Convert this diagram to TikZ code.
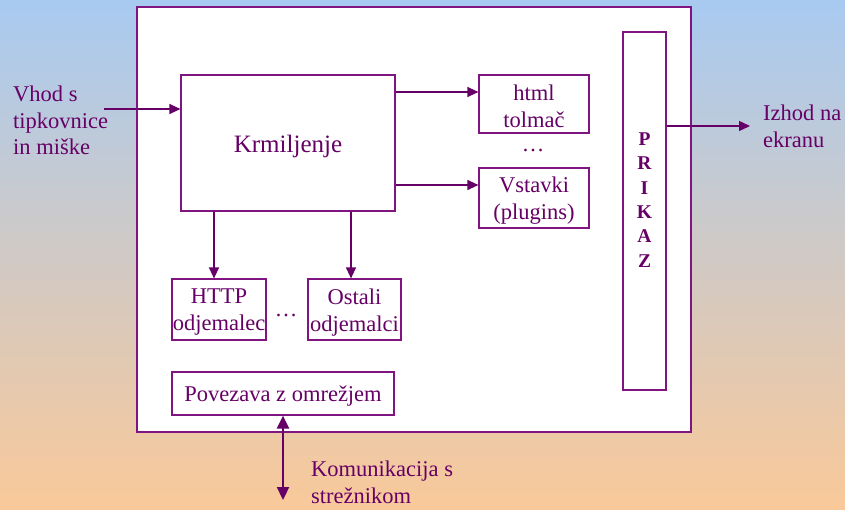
\documentclass[tikz,border=0pt]{standalone}
\usepackage{fontspec}
\setmainfont{Liberation Serif}
\usetikzlibrary{arrows.meta}
\definecolor{plum}{RGB}{102,0,102}
\definecolor{edge}{RGB}{128,20,128}
\definecolor{skytop}{RGB}{168,202,241}
\definecolor{peachbot}{RGB}{249,201,153}

\begin{document}
\begin{tikzpicture}[x=1pt,y=-1pt,
  box/.style={draw=edge, line width=1.2pt, fill=white, inner sep=0pt},
  boxtext/.style={text=plum, align=center, inner sep=0pt, yshift=-3pt,
    font=\fontsize{22.5}{27}\selectfont},
  conn/.style={draw=plum, line width=1.3pt, -{Triangle[length=11pt,width=10pt]}},
  link/.style={draw=plum, line width=2.2pt, {Triangle[length=13pt,width=12pt]}-{Triangle[length=13pt,width=12pt]}},
  lbl/.style={text=plum, align=left, font=\fontsize{22.5}{26.5}\selectfont, inner sep=0pt, anchor=north west},
  dots/.style={text=plum, font=\fontsize{22.5}{27}\selectfont, inner sep=0pt}
]
% background gradient
\shade[top color=skytop, bottom color=peachbot] (0,0) rectangle (845,509);
\useasboundingbox (0,0) rectangle (845,509);

% browser frame
\node[box, minimum width=554pt, minimum height=425pt] (frame) at (414,219.5) {};

% components
\node[box, minimum width=214pt, minimum height=136pt,
  label={[boxtext, font=\fontsize{25}{30}\selectfont]center:Krmiljenje}] (krm) at (288,143) {};
\node[box, minimum width=110pt, minimum height=58pt,
  label={[boxtext, yshift=1pt]center:html\\tolmač}] (html) at (534,104) {};
\node[dots] (d1) at (533,150) {\ldots};
\node[box, minimum width=110pt, minimum height=60pt,
  label={[boxtext]center:Vstavki\\(plugins)}] (vst) at (534,198) {};
\node[box, minimum width=43pt, minimum height=358pt] (prikaz) at (644.5,211) {};
\node[text=plum, align=center, inner sep=0pt, font=\fontsize{19.5}{24.4}\selectfont\bfseries] (prikazt) at (644.5,200) {P\\R\\I\\K\\A\\Z};
\node[box, minimum width=94pt, minimum height=61pt,
  label={[boxtext]center:HTTP\\odjemalec}] (http) at (219,309.5) {};
\node[dots] (d2) at (286,315) {\ldots};
\node[box, minimum width=93pt, minimum height=61pt,
  label={[boxtext]center:Ostali\\odjemalci}] (ost) at (354.5,309.5) {};
\node[box, minimum width=222pt, minimum height=43pt,
  label={[boxtext]center:Povezava z omrežjem}] (pov) at (283,393.5) {};

% outside labels
\node[lbl] (vhod) at (13,86) {Vhod s\\tipkovnice\\in miške};
\node[lbl] (izhod) at (763,105) {Izhod na\\ekranu};
\node[lbl] (kom) at (311,461) {Komunikacija s\\strežnikom};

% connector end points outside the frame
\coordinate (inp) at (104,109);
\coordinate (outp) at (750,126);
\coordinate (net) at (283,500);

% connectors
\draw[conn] (inp) -- (krm.west |- inp);
\draw[conn] (krm.east |- 0,92) -- (html.west |- 0,92);
\draw[conn] (krm.east |- 0,185) -- (vst.west |- 0,185);
\draw[conn] (krm.south -| 214,0) -- (http.north -| 214,0);
\draw[conn] (krm.south -| 351,0) -- (ost.north -| 351,0);
\draw[conn] (prikaz.east |- outp) -- (outp);
\draw[link] (pov.south) -- (net);
\end{tikzpicture}
\end{document}
